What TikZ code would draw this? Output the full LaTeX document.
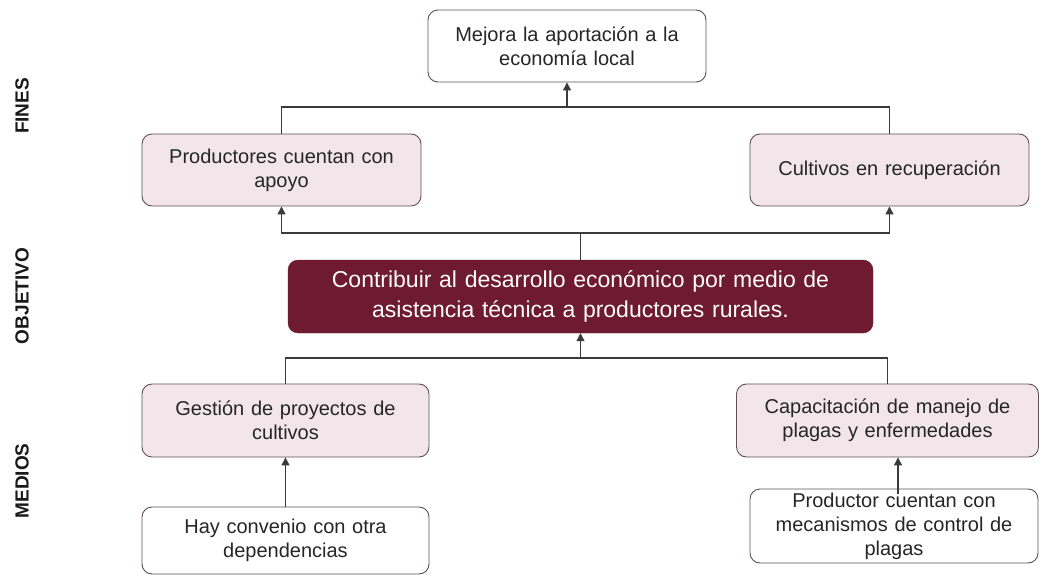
\documentclass[tikz,border=0pt]{standalone}
\usepackage{fontspec}
\setmainfont{Liberation Sans}
\usetikzlibrary{arrows.meta}
\definecolor{maroon}{HTML}{6E1A30}
\definecolor{pinkfill}{HTML}{F3E6EA}
\definecolor{boxline}{HTML}{5E5055}
\definecolor{conline}{HTML}{3A3A3A}
\begin{document}
\begin{tikzpicture}[x=1pt,y=-1pt,
  basebox/.style={rectangle, rounded corners=10pt, draw=boxline, line width=0.9pt,
    align=center, inner sep=0pt, font=\fontsize{20}{24}\selectfont, text=black!85},
  pinkbox/.style={basebox, fill=pinkfill},
  whitebox/.style={basebox, fill=white},
  objbox/.style={rectangle, rounded corners=10pt, fill=maroon, draw=maroon,
    align=center, inner sep=0pt, font=\fontsize{23}{30}\selectfont, text=white!95!pink},
  sidelabel/.style={rotate=90, font=\fontsize{19}{20}\selectfont\bfseries, text=black!90},
  conn/.style={draw=conline, line width=1.1pt},
  arr/.style={conn, -{Triangle[length=8pt,width=8pt]}}]
\useasboundingbox (0,0) rectangle (1039,575);
\fill[white] (0,0) rectangle (1039,575);

\node[sidelabel] (lfines) at (22,106) {FINES};
\node[sidelabel] (lobj) at (22,296) {OBJETIVO};
\node[sidelabel] (lmed) at (22,481) {MEDIOS};

\node[whitebox, minimum width=278pt, minimum height=72pt, text width=260pt] (mejora) at (567,46)
  {Mejora la aportación a la\\economía local};
\node[pinkbox, minimum width=279pt, minimum height=72pt, text width=260pt] (prod) at (281.5,170)
  {Productores cuentan con\\apoyo};
\node[pinkbox, minimum width=279pt, minimum height=72pt, text width=260pt] (cult) at (889.5,170)
  {Cultivos en recuperación};
\node[objbox, minimum width=585pt, minimum height=73pt, text width=560pt] (obj) at (580.5,296.5)
  {Contribuir al desarrollo económico por medio de\\asistencia técnica a productores rurales.};
\node[pinkbox, minimum width=287pt, minimum height=73pt, text width=270pt] (gest) at (285.5,420.5)
  {Gestión de proyectos de\\cultivos};
\node[pinkbox, minimum width=302pt, minimum height=73pt, text width=285pt] (cap) at (887.5,420.5)
  {Capacitación de manejo de\\plagas y enfermedades};
\node[whitebox, minimum width=287pt, minimum height=67pt, text width=270pt] (hay) at (285.5,540.5)
  {Hay convenio con otra\\dependencias};
\node[whitebox, minimum width=288pt, minimum height=74pt, text width=280pt] (pctrl) at (894,526)
  {Productor cuentan con\\mecanismos de control de\\plagas};

\coordinate (jt) at (567,107);
\coordinate (jm) at (580.5,233);
\coordinate (jb) at (580.5,358);
\coordinate (pc) at (898,494);

\draw[conn] (prod.north) |- (jt);
\draw[conn] (cult.north) |- (jt);
\draw[arr] (jt) -- (mejora.south);

\draw[conn] (obj.north) -- (jm);
\draw[arr] (jm) -| (prod.south);
\draw[arr] (jm) -| (cult.south);

\draw[conn] (gest.north) |- (jb);
\draw[conn] (cap.north) |- (jb);
\draw[arr] (jb) -- (obj.south);

\draw[arr] (hay.north) -- (gest.south);
\draw[arr] (pc) -- (pc |- cap.south);
\end{tikzpicture}
\end{document}
